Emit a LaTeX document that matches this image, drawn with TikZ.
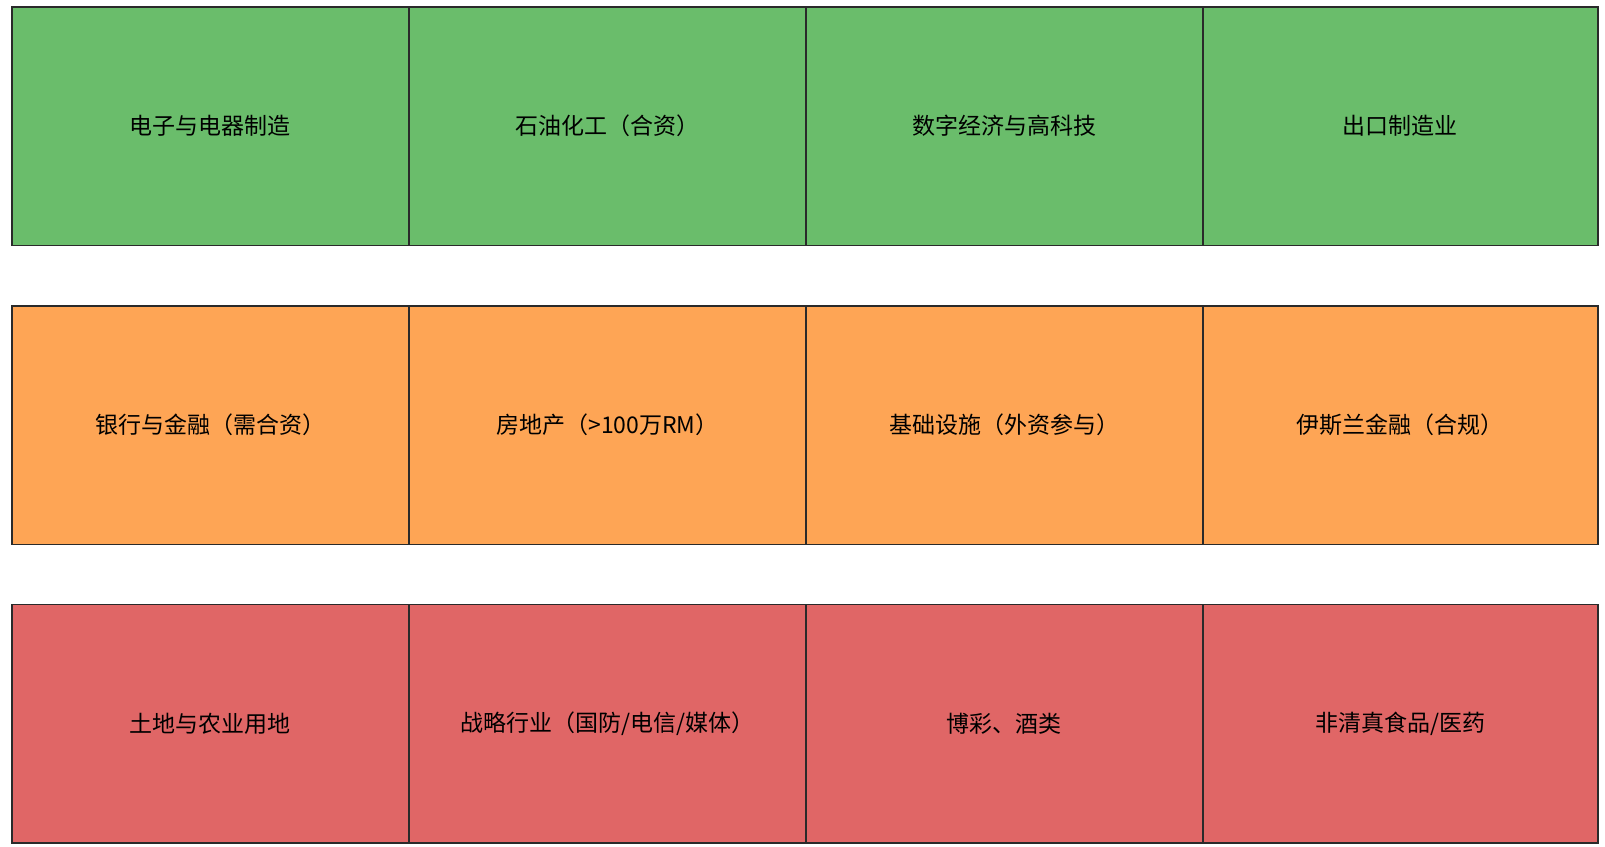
\documentclass[tikz,border=0pt]{standalone}
\usepackage{fontspec}
\newfontfamily\cjk{Noto Sans CJK SC}
\definecolor{cgreen}{HTML}{6ABD6B}
\definecolor{corange}{HTML}{FEA555}
\definecolor{cred}{HTML}{E06666}
\definecolor{cborder}{HTML}{2A2A2A}
\begin{document}
\begin{tikzpicture}[x=1pt,y=-1pt,
  cell/.style={draw=cborder,line width=1.8pt,minimum width=397pt,minimum height=238.5pt,inner sep=0pt,anchor=north west,font=\cjk\fontsize{23}{26}\selectfont,text=black},
  g/.style={cell,fill=cgreen},
  o/.style={cell,fill=corange},
  r/.style={cell,fill=cred}]
\useasboundingbox (0,0) rectangle (1605,846);
\node[g] (a1) at (11,6) {电子与电器制造};
\node[g] (a2) at (408,6) {石油化工（合资）};
\node[g] (a3) at (805,6) {数字经济与高科技};
\node[g,minimum width=395pt] (a4) at (1202,6) {出口制造业};
\node[o] (b1) at (11,305) {银行与金融（需合资）};
\node[o] (b2) at (408,305) {房地产（>100万RM）};
\node[o] (b3) at (805,305) {基础设施（外资参与）};
\node[o,minimum width=395pt] (b4) at (1202,305) {伊斯兰金融（合规）};
\node[r] (c1) at (11,603.5) {土地与农业用地};
\node[r] (c2) at (408,603.5) {战略行业（国防/电信/媒体）};
\node[r] (c3) at (805,603.5) {博彩、酒类};
\node[r,minimum width=395pt] (c4) at (1202,603.5) {非清真食品/医药};
\end{tikzpicture}
\end{document}
